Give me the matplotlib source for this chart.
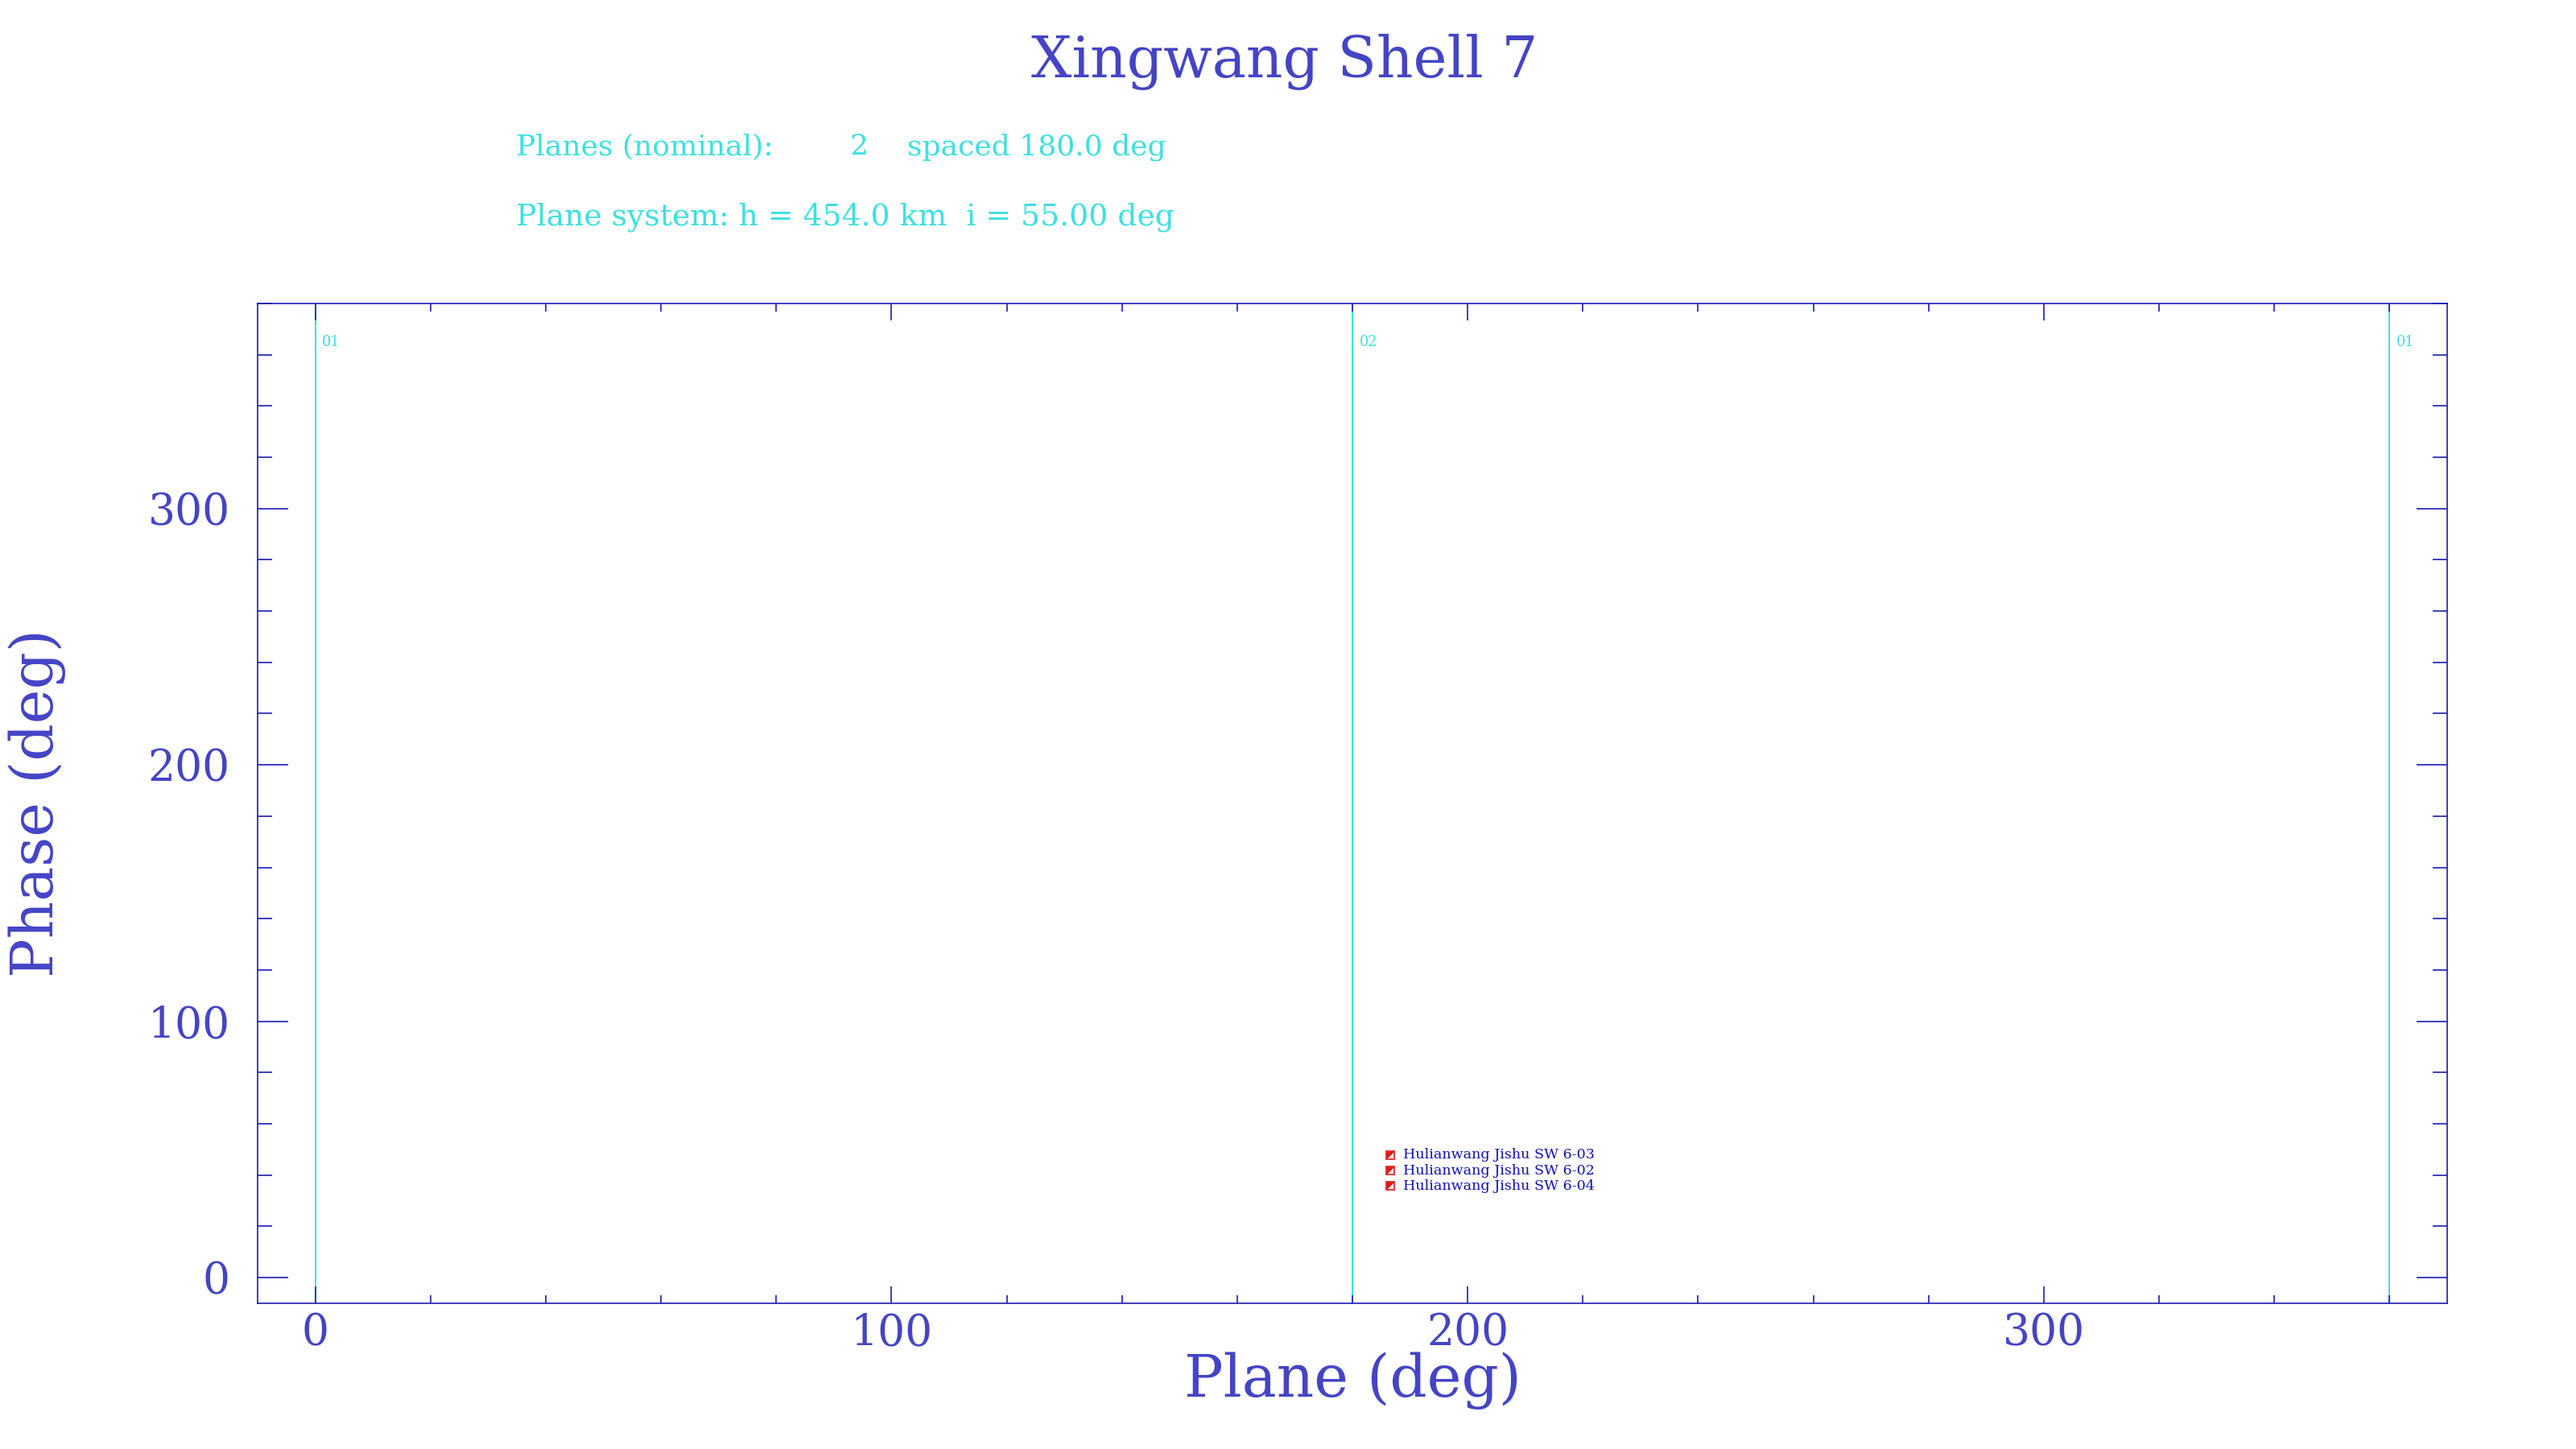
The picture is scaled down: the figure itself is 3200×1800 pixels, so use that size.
import matplotlib
matplotlib.use('Agg')
import matplotlib.pyplot as plt
from matplotlib.ticker import MultipleLocator
from matplotlib.path import Path

# ---------------- data ----------------
title = "Xingwang Shell 7"
plane_positions = [0, 180, 360]
plane_labels = ["01", "02", "01"]
sat_names = ["Hulianwang Jishu SW 6-03",
             "Hulianwang Jishu SW 6-02",
             "Hulianwang Jishu SW 6-04"]
sat_plane = [186.6, 186.6, 186.6]
sat_phase = [47.8, 41.7, 35.8]
x_ticks = [0, 100, 200, 300]
y_ticks = [0, 100, 200, 300]
n_planes = 2
plane_spacing = 180.0
altitude_km = 454.0
inclination_deg = 55.00

# ---------------- style ----------------
LINE_BLUE = '#1c1cb4'
TEXT_BLUE = '#4444c6'
CYAN = '#3ee0e0'
RED = '#e01818'

plt.rcParams['font.family'] = ['DejaVu Serif']

fig = plt.figure(figsize=(16, 9), dpi=200)
fig.patch.set_facecolor('white')
ax = fig.add_axes([0.1, 0.1006, 0.85, 0.69])
ax.set_xlim(-10, 370)
ax.set_ylim(-10, 380)

for s in ax.spines.values():
    s.set_color(LINE_BLUE)
    s.set_linewidth(0.6)
    s.set_zorder(3)

# plane lines + labels
for p, lab in zip(plane_positions, plane_labels):
    ax.axvline(p, color=CYAN, lw=0.7, zorder=1)
    ax.text(p + 1.2, 365, lab, color=CYAN, fontsize=6.4,
            va='center', ha='left', zorder=2)

# satellites
tri = Path([(-1, -1), (-1, 1), (1, 1), (-1, -1)],
           [Path.MOVETO, Path.LINETO, Path.LINETO, Path.CLOSEPOLY])
ax.plot(sat_plane, sat_phase, ls='none', marker=tri, ms=3.6,
        mfc=RED, mec='none', zorder=4)
ax.plot(sat_plane, sat_phase, ls='none', marker='s', ms=3.6,
        mfc='none', mec=RED, mew=0.6, zorder=4)
for name, x, y in zip(sat_names, sat_plane, sat_phase):
    ax.annotate(name, (x, y), xytext=(5.6, 0), textcoords='offset points',
                va='center', ha='left', fontsize=6.3, color='#1010b0',
                zorder=5)

# ticks
ax.set_xticks(x_ticks)
ax.set_yticks(y_ticks)
ax.xaxis.set_minor_locator(MultipleLocator(20))
ax.yaxis.set_minor_locator(MultipleLocator(20))
ax.tick_params(which='both', direction='in', top=True, right=True,
               color=LINE_BLUE, width=0.6, labelcolor=TEXT_BLUE)
ax.tick_params(axis='x', which='major', length=7.6, pad=4, labelsize=19.3)
ax.tick_params(axis='x', which='minor', length=3.6)
ax.tick_params(axis='y', which='major', length=13.7, pad=12.4, labelsize=19.3)
ax.tick_params(axis='y', which='minor', length=6.5)

# axis labels
ax.set_xlabel("Plane (deg)", fontsize=26, color=TEXT_BLUE, va='top')
ax.xaxis.set_label_coords(0.5, -0.049)
ax.set_ylabel("Phase (deg)", fontsize=26, color=TEXT_BLUE)
ax.yaxis.set_label_coords(-0.0875, 0.5)

# title and header
fig.text(0.4985, 1 - 96 / 1800, title, ha='center', va='baseline',
         fontsize=25.5, color=TEXT_BLUE)
fig.text(641 / 3200, 1 - 192 / 1800, "Planes (nominal):", ha='left',
         va='baseline', fontsize=13, color=CYAN)
fig.text(1055 / 3200, 1 - 192 / 1800, f"{n_planes:d}", ha='left',
         va='baseline', fontsize=13, color=CYAN)
fig.text(1127 / 3200, 1 - 192 / 1800, f"spaced {plane_spacing:.1f} deg",
         ha='left', va='baseline', fontsize=13, color=CYAN)
fig.text(641 / 3200, 1 - 280 / 1800,
         f"Plane system: h = {altitude_km:.1f} km  i = {inclination_deg:.2f} deg",
         ha='left', va='baseline', fontsize=13.6, color=CYAN)

fig.savefig('out.png', dpi=200, facecolor='white')
